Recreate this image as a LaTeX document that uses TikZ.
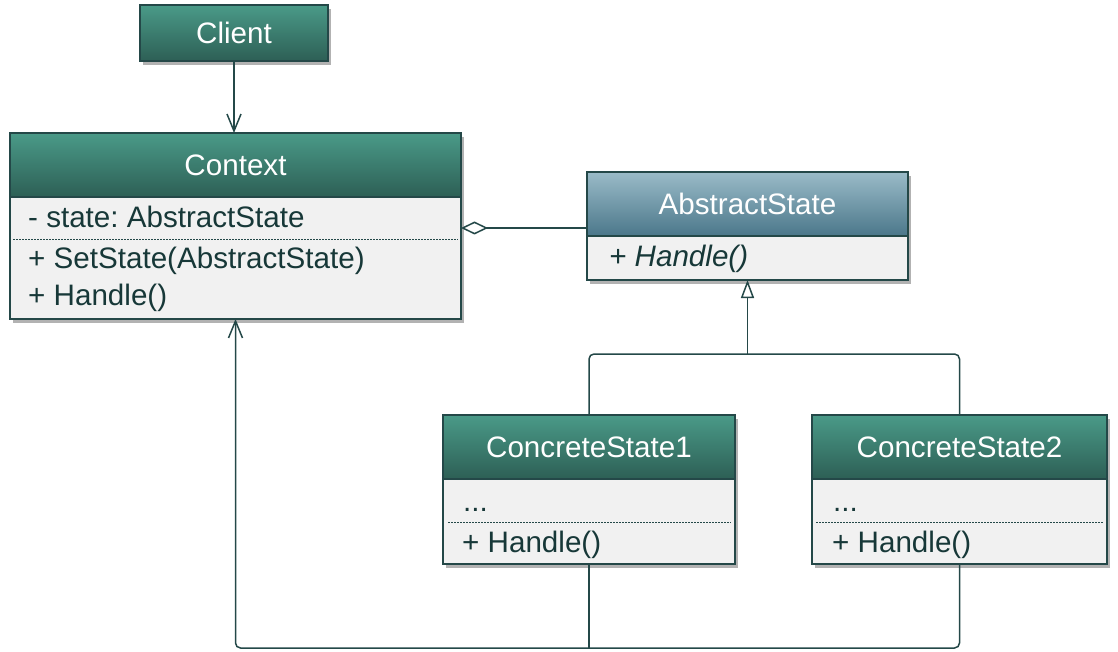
\documentclass[tikz,border=0pt]{standalone}
\usepackage{fontspec}
\setmainfont{Liberation Sans}
\usetikzlibrary{arrows.meta,positioning,shadows}
\frenchspacing

\definecolor{headtop}{HTML}{4A9A88}
\definecolor{headbot}{HTML}{2D5F55}
\definecolor{abstop}{HTML}{9ABBC8}
\definecolor{absbot}{HTML}{4B778A}
\definecolor{umlline}{HTML}{244848}
\definecolor{bodyfill}{HTML}{F1F1F1}
\definecolor{umltext}{HTML}{173838}

\tikzset{
  umlfont/.style={font=\fontsize{29.6}{34}\selectfont},
  umlshadow/.style={drop shadow={shadow xshift=3pt, shadow yshift=-4pt, opacity=0.3, fill=black}},
  classhead/.style={draw=umlline, line width=2pt, top color=headtop, bottom color=headbot,
    text=white, umlfont, minimum height=64pt, inner sep=0pt, outer sep=0pt, umlshadow},
  abstracthead/.style={classhead, top color=abstop, bottom color=absbot},
  classbody/.style={draw=umlline, line width=2pt, fill=bodyfill, inner sep=0pt, outer sep=0pt, umlshadow},
  member/.style={anchor=base west, text=umltext, umlfont, inner sep=0pt},
  divider/.style={umlline, line width=1pt, dash pattern=on 1.5pt off 1.5pt},
  link/.style={umlline, line width=1.5pt},
}

\begin{document}
\begin{tikzpicture}[x=1pt, y=-1pt]
\useasboundingbox (0,0) rectangle (1118,652);

% client
\node[classhead, minimum width=188pt, minimum height=56pt] (client) at (234,33) {Client};

% context
\node[classhead, minimum width=451pt] (ctxhead) at (235.5,165) {Context};
\node[classbody, minimum width=451pt, minimum height=122pt, below=0pt of ctxhead] (ctxbody) {};
\node[member] (ctxattr) at (28,228) {- state: AbstractState};
\draw[divider] (13,240) -- (458,240);
\node[member] (ctxop1) at (28,268) {+ SetState(AbstractState)};
\node[member] (ctxop2) at (28,305) {+ Handle()};

% abstract state
\node[abstracthead, minimum width=321pt] (abshead) at (747.5,204) {AbstractState};
\node[classbody, minimum width=321pt, minimum height=44pt, below=0pt of abshead] (absbody) {};
\node[member] (absop) at (609,266) {\itshape + Handle()};

% concrete states
\node[classhead, minimum width=292pt] (cs1head) at (589,447) {ConcreteState1};
\node[classbody, minimum width=292pt, minimum height=85pt, below=0pt of cs1head] (cs1body) {};
\node[member] (cs1attr) at (463,511) {...};
\draw[divider] (448,522) -- (731,522);
\node[member] (cs1op) at (462,552) {+ Handle()};

\node[classhead, minimum width=295pt] (cs2head) at (959.5,447) {ConcreteState2};
\node[classbody, minimum width=295pt, minimum height=85pt, below=0pt of cs2head] (cs2body) {};
\node[member] (cs2attr) at (833,511) {...};
\draw[divider] (816,522) -- (1104,522);
\node[member] (cs2op) at (832,552) {+ Handle()};

% connectors
\coordinate (inhjoint) at (absbody.south |- 0,354);
\coordinate (bus) at (0,648);

\draw[link, -{Straight Barb[length=17pt, width=14pt]}] (client.south) -- (client.south |- ctxhead.north);
\draw[link, {Diamond[fill=white, length=27pt, width=13pt]}-] (ctxbody.east |- ctxattr.base) -- (abshead.west |- ctxattr.base);
\draw[link, rounded corners=5pt] (cs1head.north) |- (inhjoint) -| (cs2head.north);
\draw[link, -{Triangle[fill=white, length=18pt, width=13pt]}] (inhjoint) -- (absbody.south);
\draw[link, rounded corners=5pt, -{Straight Barb[length=17pt, width=14pt]}] (cs2body.south) |- (ctxbody.south |- bus) -- (ctxbody.south);
\draw[link, rounded corners=5pt] (cs1body.south) -- (cs1body.south |- bus);
\end{tikzpicture}
\end{document}
